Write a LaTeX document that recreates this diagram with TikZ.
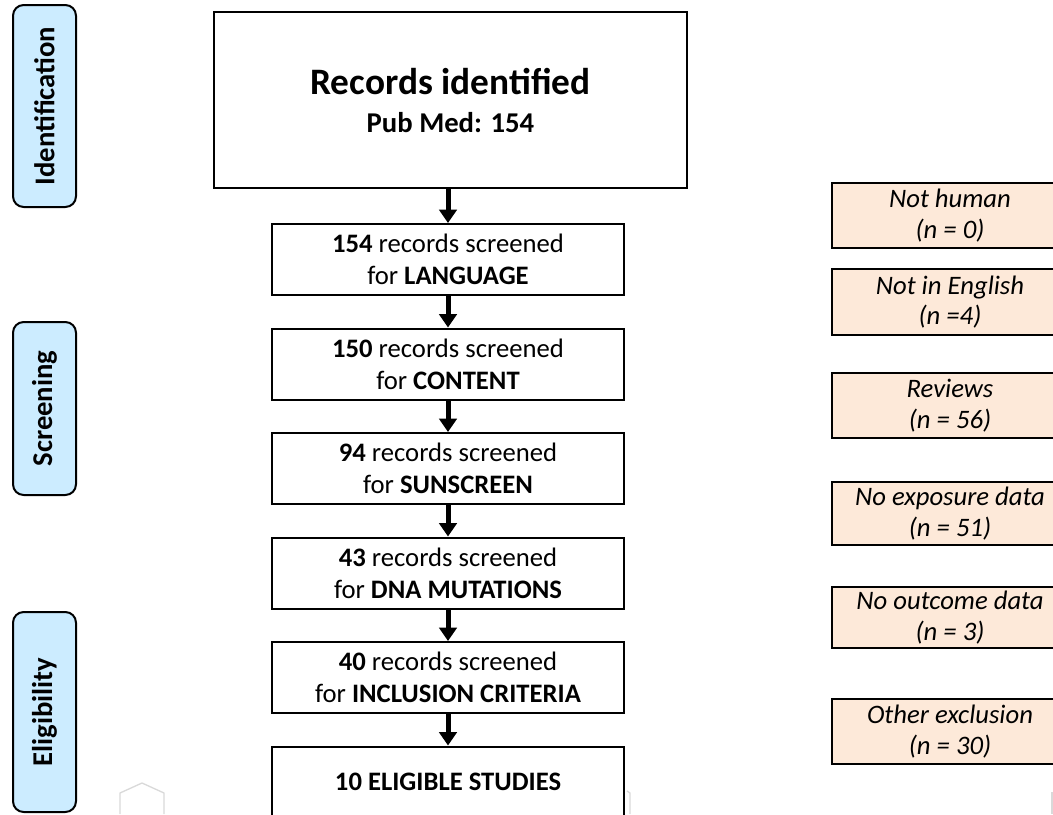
\documentclass[tikz,border=0pt]{standalone}
\usepackage{fontspec}
\setmainfont{Carlito}
\usetikzlibrary{arrows.meta}
\definecolor{phasefill}{HTML}{CCECFF}
\definecolor{exclfill}{HTML}{FDE9D9}
\begin{document}
\begin{tikzpicture}[x=0.75pt,y=-0.75pt,
  phasebox/.style={draw, line width=1.5pt, fill=phasefill, rounded corners=8pt, rotate=90,
    minimum height=47.25pt, inner sep=0pt, font=\fontsize{21.5}{24}\selectfont\bfseries},
  mainbox/.style={draw, line width=1.5pt, fill=white, minimum width=264pt, minimum height=53.25pt,
    inner sep=0pt, align=center, font=\fontsize{20}{24}\selectfont},
  exclbox/.style={draw, line width=1.5pt, fill=exclfill, minimum width=177pt, inner sep=0pt,
    align=center, font=\fontsize{20}{23}\selectfont\itshape},
  flow/.style={line width=3.75pt, -{Triangle[width=13pt,length=10pt]}},
  faintmark/.style={draw=black!15, line width=1pt}
]
\useasboundingbox (0,0) rectangle (1053,814);
\clip (0,0) rectangle (1053,814);

% phase labels
\node[phasebox, minimum width=151.5pt] (ident) at (44.5,106) {Identification};
\node[phasebox, minimum width=129.75pt] (screen) at (44.5,408.5) {Screening};
\node[phasebox, minimum width=150pt] (elig) at (44.5,712) {Eligibility};

% main flow
\node[draw, line width=1.5pt, fill=white, minimum width=354.75pt, minimum height=132pt, inner sep=0pt,
  align=center, font=\fontsize{21.5}{28.5}\selectfont\bfseries]
  (top) at (450.5,100)
  {{\fontsize{28}{28.5}\selectfont Records identified}\\
   Pub Med: 154};
\node[mainbox] (b1) at (448,259.5) {\textbf{154} records screened\\for \textbf{LANGUAGE}};
\node[mainbox] (b2) at (448,364) {\textbf{150} records screened\\for \textbf{CONTENT}};
\node[mainbox] (b3) at (448,468.5) {\textbf{94} records screened\\for \textbf{SUNSCREEN}};
\node[mainbox] (b4) at (448,573) {\textbf{43} records screened\\for \textbf{DNA MUTATIONS}};
\node[mainbox] (b5) at (448,677.5) {\textbf{40} records screened\\for \textbf{INCLUSION CRITERIA}};
\node[mainbox] (b6) at (448,782) {\textbf{10 ELIGIBLE STUDIES}};

\draw[flow] (top.south -| b1.north) -- (b1.north);
\draw[flow] (b1) -- (b2);
\draw[flow] (b2) -- (b3);
\draw[flow] (b3) -- (b4);
\draw[flow] (b4) -- (b5);
\draw[flow] (b5) -- (b6);

% exclusions
\node[exclbox, minimum height=48.75pt] (e1) at (950,215.5) {Not human\\(n = 0)};
\node[exclbox, minimum height=49.5pt] (e2) at (950,302) {Not in English\\(n =4)};
\node[exclbox, minimum height=48.75pt] (e3) at (950,405.5) {Reviews\\(n = 56)};
\node[exclbox, minimum height=47.25pt] (e4) at (950,513.5) {No exposure data\\(n = 51)};
\node[exclbox, minimum height=45.75pt] (e5) at (950,617.5) {No outcome data\\(n = 3)};
\node[exclbox, minimum height=48.75pt] (e6) at (950,731.5) {Other exclusion\\(n = 30)};

% faint background marks
\draw[faintmark] (120,814) -- (120,793) -- (142,783) -- (164,793) -- (164,814);
\draw[faintmark] (627,791) -- (630,793) -- (630,814);
\draw[faintmark] (1052,792) -- (1052,814);
\end{tikzpicture}
\end{document}
